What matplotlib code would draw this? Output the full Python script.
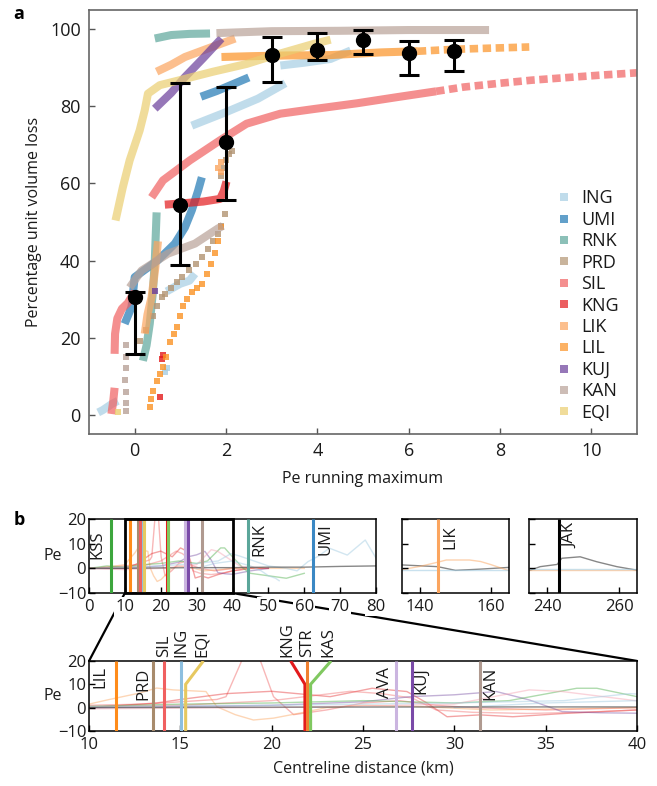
import matplotlib
matplotlib.use("Agg")
import matplotlib.pyplot as plt
from matplotlib.lines import Line2D
from matplotlib.patches import Rectangle, ConnectionPatch

plt.rcParams['font.family'] = ['Open Sans', 'DejaVu Sans']
plt.rcParams['axes.unicode_minus'] = True

# ---------------- panel a data ----------------
glaciers = ['ING', 'UMI', 'RNK', 'PRD', 'SIL', 'KNG', 'LIK', 'LIL', 'KUJ', 'KAN', 'EQI']
colors = ['#a6cee3', '#1f78b4', '#5ba69a', '#b29472', '#f06060', '#e31a1c',
          '#fba55f', '#fb9224', '#6a3d9a', '#b8a197', '#eace6f']

# dense tracks: list of (x, y) per glacier
ING_tracks = [([1.25, 2.0, 2.7, 3.3], [75, 78.5, 82, 86]),
              ([3.19, 3.7, 4.29, 4.73], [90.6, 91.3, 92.3, 94.5]),
              ([0.7, 0.85, 1.0, 1.2, 1.32], [32, 33, 34, 34.8, 36.6]),
              ([-0.8, -0.7, -0.6, -0.5, -0.37], [0.6, 1.2, 2.0, 2.8, 3.6])]
UMI_tracks = [([-0.22, -0.07, 0.0, 0.5, 0.88, 1.1, 1.25, 1.39, 1.47],
               [23.6, 27.9, 35.7, 40, 44.4, 48.6, 53, 58.2, 61.6]),
              ([1.45, 1.8, 2.2, 2.5], [82.5, 84, 86, 87.5])]
RNK_tracks = [([0.44, 0.8, 1.2, 1.65], [97.6, 98.5, 98.8, 98.9]),
              ([0.18, 0.26, 0.33, 0.4, 0.44, 0.48], [14, 18, 23.6, 32, 40, 52.5])]
PRD_tracks = []
SIL_tracks = [([-0.44, -0.43, -0.38, -0.28, -0.15, 0.0], [15.8, 21, 25, 27.5, 29, 32]),
              ([-0.51, -0.47, -0.44], [0.2, 3.5, 7]),
              ([0.37, 0.62, 1.21, 1.87, 2.45, 3.19, 3.92, 4.87, 5.75, 6.6],
               [56.4, 60.8, 66, 71.2, 75.5, 78.1, 79.3, 80.8, 82.4, 83.9])]
KNG_tracks = [([0.66, 1.0, 1.5, 1.87, 1.95, 2.01], [54.5, 54.8, 55.3, 56, 58, 60.5])]
LIK_tracks = [([0.48, 0.8, 1.1, 1.6, 2.2], [89, 90.8, 92.8, 95, 97.6]),
              ([0.22, 0.28, 0.37, 0.45, 0.51], [21, 26, 30.5, 38, 45])]
LIL_tracks = [([1.9, 2.5, 3.3, 4.29, 5.4, 6.2], [92.8, 93.0, 93.2, 93.3, 94, 94.3])]
KUJ_tracks = [([0.44, 0.8, 1.1, 1.5, 1.9], [79.4, 83.5, 87.6, 92.5, 97.6])]
KAN_tracks = [([1.79, 3.0, 4.5, 6.0, 7.76], [99.0, 99.5, 99.6, 99.8, 99.8]),
              ([-0.11, 0.15, 0.73, 1.32, 1.82, 1.93], [33, 37.4, 41.8, 44.4, 48.3, 49])]
EQI_tracks = [([-0.42, -0.26, -0.11, 0.11, 0.22, 0.29, 0.55, 0.99, 1.72, 2.45, 3.04, 3.92, 4.29],
               [50.4, 59, 66, 73.8, 79, 83.3, 85.5, 86.8, 89, 91, 93.2, 96.2, 97.3])]

# sparse tails drawn as spaced squares
SIL_tail = ([6.6, 7.2, 8.0, 8.7, 9.5, 10.2, 11.0], [83.9, 85.0, 86.0, 86.8, 87.5, 88.1, 88.7])
LIL_tail = ([6.2, 7.0, 7.8, 8.64], [94.3, 94.8, 95.1, 95.4])

# individual squares
ING_dots = ([0.66, 0.7], [11, 12])
UMI_dots = ([], [])
RNK_dots = ([], [])
PRD_dots = ([0.11, 0.25, 0.4, 0.48, 0.59, 0.66, 0.8, 0.92, 1.03, 1.2, 1.35, 1.47, 1.6,
             1.72, 1.83, 1.9, 1.98, 1.9, 1.95, 2.0, 2.07, 2.12],
            [19.2, 22, 25.7, 28.3, 30.5, 31.4, 33, 34.5, 35.7, 37.5, 39, 40.9, 43,
             45, 47, 49, 52.2, 62, 64, 66, 67.7, 68.5])
SIL_dots = ([], [])
KNG_dots = ([0.59, 0.62, 0.55], [14.5, 15.5, 4.5])
LIK_dots = ([1.83, 1.88, 1.9], [64, 65.5, 63])
LIL_dots = ([0.33, 0.36, 0.4, 0.48, 0.55, 0.62, 0.68, 0.77, 0.85, 0.92, 1.0, 1.06, 1.15,
             1.25, 1.36, 1.47, 1.58, 1.68, 1.76, 1.83, 1.9],
            [1.9, 4, 6.2, 8.8, 10.5, 12.3, 15, 18.8, 21, 22.7, 25.5, 28.3, 30,
             31.8, 32.8, 34, 36.5, 39, 42, 45, 48.6])
KUJ_dots = ([0.44], [32.2])
KAN_dots = ([-0.18, -0.2, -0.18, -0.22, -0.2, -0.2, -0.18], [1, 3, 6, 9, 12, 15, 18])
EQI_dots = ([-0.37], [0.6])

eb_x = [0, 1, 2, 3, 4, 5, 6, 7]
eb_y = [30.5, 54.5, 70.7, 93.2, 94.5, 97.1, 93.8, 94.4]
eb_lo = [15.8, 38.9, 55.8, 86.3, 92.1, 93.5, 88.1, 89.3]
eb_hi = [31.8, 86.0, 85.0, 98.0, 98.9, 99.9, 96.9, 97.1]

# ---------------- panel b data ----------------
prof_colors = ['#f06060', '#fba55f', '#e31a1c', '#f06060', '#6a3d9a', '#4daf4a',
               '#f4a0b0', '#a6cee3', '#a6cee3', '#555555', '#fba55f', '#a6cee3', '#fba55f', '#a6cee3']
prof_x = [
    [0, 5, 10, 13, 15, 17, 17.5, 18.3, 18.8, 19.4, 20.1, 21.2, 23, 25, 27, 29, 31, 35, 40, 45, 50],
    [0, 5, 10, 11, 12.8, 13.7, 14.6, 16.4, 17, 18, 19, 20.1, 21.5, 23, 25, 28, 32, 36, 40, 50, 60],
    [0, 10, 13.7, 15, 17.5, 20, 23.2, 25.5, 27.4, 28.5, 29.6, 31.4, 33.2, 36, 40, 45, 50],
    [0, 10, 15, 20, 24.3, 26, 27.7, 29, 31, 34, 37, 40, 45],
    [0, 10, 15, 20, 25, 27.6, 30, 32.3, 34.1, 35.9, 38, 40, 45, 50],
    [0, 5, 10, 15, 20, 25, 30, 33, 36.7, 37.8, 40, 43, 45, 50, 55, 60],
    [0, 10, 20, 30, 34.1, 35.9, 39.6, 42, 45],
    [0, 10, 20, 30, 36, 39.6, 42, 46, 50, 55, 58, 61, 64, 67, 72, 77, 80],
    [30, 35, 40, 45, 48, 50, 52, 53],
    [0, 10, 20, 30, 40, 50, 60, 70, 80, 135, 145, 150, 157, 165,
     235.4, 238.1, 242.8, 244.1, 249.2, 253.8, 259.4, 264.9],
    [135, 140, 145, 147.4, 153.9, 157, 160, 164.5],
    [135, 165],
    [235, 265],
    [235, 265],
]
prof_y = [
    [0, 0.5, 1, 1.5, 2.5, 3.5, 4.7, 19, 30, 19.7, 4.7, -3, -1, 2, 3, 1, 0, -1, 0, 0.5, 0],
    [0, 0.5, 1.5, 3.3, 6.3, 8.4, 7.6, 6.9, 0.4, -3, -5.3, -4.5, -2.4, 0, 1, 0.5, -1, -0.5, 0, 0, 0],
    [0, 0, 2, 3.5, 6, 7, 4.7, 8.3, 6.9, 2, -3.9, -3.1, -3.9, -2.5, -1, 0, 0],
    [0, 0.5, 1, 3, 7, 6, 4.1, -1, -2, -2.5, -2, -1, 0],
    [0, 0, 0.5, 1, 2.5, 4.7, 5.5, 6.9, 3.3, -1.7, -2.2, -2.4, -1, 0],
    [0, 1, 0.5, 1.5, 2, 3, 2, 3, 8.3, 8.3, 4.7, 0, -2, -3, -4, -2],
    [0, -0.5, 0, 1.5, 7.6, 6.9, 3.3, 1, 0],
    [0, 0.5, 1, 2, 3, 6, 5, 3, 1, 0, -1, 2.7, 5, 8.2, 5.4, 11.5, 4.2],
    [0, 2, 3, 1, -1, -3, -4, -5],
    [0, 0, 0.2, 0.3, 0.3, 0.5, 0.5, 0.8, 1, 1.4, 0.7, -0.8, -0.3, 0.4,
     -0.7, 0.7, 1.6, 4.1, 4.7, 2.7, 0.7, -0.7],
    [-0.5, 0.8, 2.5, 3.4, 3.4, 2.8, 1.5, -0.7],
    [-0.5, -0.5],
    [-0.8, -0.8],
    [-0.3, -0.3],
]
prof_alpha = [0.45, 0.45, 0.4, 0.4, 0.4, 0.45, 0.45, 0.5, 0.5, 0.7, 0.5, 0.6, 0.5, 0.6]

mk_names = ['KSS', 'LIL', 'PRD', 'SIL', 'ING', 'EQI', 'KNG', 'STR', 'KAS', 'AVA', 'KUJ', 'KAN',
            'RNK', 'UMI', 'LIK', 'JAK']
mk_pos = [6.05, 11.48, 13.52, 14.12, 15.02, 15.29, 21.82, 21.91, 22.13, 26.8, 27.7, 31.4,
          44.2, 62.5, 145.1, 243.2]
mk_top = [6.05, 11.48, 13.52, 14.12, 15.02, 16.26, 21.04, 21.91, 23.25, 26.8, 27.7, 31.4,
          44.2, 62.5, 145.1, 243.2]
mk_colors = ['#3da63d', '#ff8c1a', '#a88b6c', '#f06060', '#8dbfdf', '#e6c860', '#e31a1c',
             '#f08030', '#80c860', '#cbb5e0', '#7a4aa8', '#b09a90', '#5ba69a', '#3a88c4',
             '#fba55f', '#000000']

# ---------------- figure ----------------
fig = plt.figure(figsize=(6.57, 7.86), dpi=100)
ax_a = fig.add_axes([0.1355, 0.4478, 0.8341, 0.5395])
ax_b1 = fig.add_axes([0.1355, 0.2455, 0.4368, 0.0941])
ax_b2 = fig.add_axes([0.6119, 0.2455, 0.1628, 0.0941])
ax_b3 = fig.add_axes([0.8052, 0.2455, 0.1644, 0.0941])
ax_c = fig.add_axes([0.1355, 0.0700, 0.8341, 0.0891])

TXT = '#1a1a1a'
ALPHA = 0.7
tracks = [ING_tracks, UMI_tracks, RNK_tracks, PRD_tracks, SIL_tracks, KNG_tracks,
          LIK_tracks, LIL_tracks, KUJ_tracks, KAN_tracks, EQI_tracks]
dots = [ING_dots, UMI_dots, RNK_dots, PRD_dots, SIL_dots, KNG_dots,
        LIK_dots, LIL_dots, KUJ_dots, KAN_dots, EQI_dots]

for g, c, trs, ds in zip(glaciers, colors, tracks, dots):
    for tx, ty in trs:
        ax_a.plot(tx, ty, color=c, alpha=ALPHA, lw=5.8, solid_capstyle='butt',
                  solid_joinstyle='round', zorder=2)
    if len(ds[0]):
        ax_a.plot(ds[0], ds[1], ls='none', marker='s', ms=5, mew=0, color=c,
                  alpha=0.8, zorder=2)

for (tx, ty), c in [(SIL_tail, colors[4]), (LIL_tail, colors[7])]:
    ax_a.plot(tx, ty, color=c, alpha=ALPHA, lw=5.5, dash_capstyle='butt',
              linestyle=(0, (1.1, 0.6)), zorder=2)

yerr = [[y - lo for y, lo in zip(eb_y, eb_lo)], [hi - y for y, hi in zip(eb_y, eb_hi)]]
ax_a.errorbar(eb_x, eb_y, yerr=yerr, fmt='o', color='black', ms=10, lw=2.2,
              capsize=7, capthick=2.2, zorder=5)

ax_a.set_xlim(-1, 11)
ax_a.set_ylim(-5, 105)
ax_a.set_xticks([0, 2, 4, 6, 8, 10])
ax_a.set_yticks([0, 20, 40, 60, 80, 100])
ax_a.tick_params(direction='in', length=4, width=1, labelsize=13, colors='#555555',
                 labelcolor=TXT, pad=6)
for s in ax_a.spines.values():
    s.set_color('#666666')
    s.set_linewidth(1.2)
ax_a.set_xlabel('Pe running maximum', fontsize=11.5, color=TXT, labelpad=8)
ax_a.set_ylabel('Percentage unit volume loss', fontsize=11.5, color=TXT, labelpad=6)

handles = [Line2D([], [], ls='none', marker='s', ms=6, mew=0, color=c, alpha=ALPHA, label=g)
           for g, c in zip(glaciers, colors)]
leg = ax_a.legend(handles=handles, loc='lower left', bbox_to_anchor=(0.84, 0.012),
                  frameon=False, fontsize=13, handlelength=0.8, handletextpad=0.55,
                  labelspacing=0.19, borderaxespad=0)
for t in leg.get_texts():
    t.set_color(TXT)

# ---------------- panel b ----------------
def draw_profiles(ax):
    for px_, py_, pc, pa in zip(prof_x, prof_y, prof_colors, prof_alpha):
        ax.plot(px_, py_, color=pc, lw=1.0, alpha=pa, zorder=1)

for ax, xl in [(ax_b1, (0, 80)), (ax_b2, (135, 165)), (ax_b3, (235, 265)), (ax_c, (10, 40))]:
    draw_profiles(ax)
    ax.set_xlim(*xl)
    ax.set_ylim(-10, 20)
    ax.set_yticks([-10, 0, 10, 20])
    ax.tick_params(direction='in', length=4, width=1, labelsize=12, colors='black',
                   labelcolor=TXT)
    ax.tick_params(axis='x', pad=4)
    ax.tick_params(axis='y', pad=2)
    for s in ax.spines.values():
        s.set_color('black')
        s.set_linewidth(1.1)

# vertical markers
for n, p, t, c in zip(mk_names, mk_pos, mk_top, mk_colors):
    for ax in (ax_b1, ax_b2, ax_b3):
        ax.plot([p, p], [-10, 20], color=c, lw=2.2, zorder=3, solid_capstyle='butt')
    ax_c.plot([p, p, t], [-10, 10, 20], color=c, lw=2.2, zorder=3, solid_capstyle='butt',
              solid_joinstyle='miter')

ax_b1.set_xticks(range(0, 81, 10))
ax_b2.set_xticks([140, 160])
ax_b3.set_xticks([240, 260])
ax_b2.set_yticklabels([])
ax_b3.set_yticklabels([])
ax_c.set_xticks([10, 15, 20, 25, 30, 35, 40])

for ax in (ax_b1, ax_c):
    ax.set_ylabel('Pe', rotation=0, fontsize=11.5, color=TXT, va='center', ha='center')
ax_b1.yaxis.set_label_coords(-0.125, 0.5)
ax_c.yaxis.set_label_coords(-0.066, 0.5)
ax_c.set_xlabel('Centreline distance (km)', fontsize=11.5, color=TXT, labelpad=6)

# inside labels
inside = [(ax_b1, 'KSS', 2.4, 15.5), (ax_b1, 'RNK', 47.6, 18.5), (ax_b1, 'UMI', 66.0, 18.5),
          (ax_b2, 'LIK', 148.5, 17.5), (ax_b3, 'JAK', 246.4, 18.5),
          (ax_c, 'LIL', 10.6, 17.8), (ax_c, 'PRD', 13.0, 17.0), (ax_c, 'AVA', 26.2, 17.5),
          (ax_c, 'KUJ', 28.2, 17.5), (ax_c, 'KAN', 31.95, 17.5)]
for ax, n, x, y in inside:
    ax.text(x, y, n, rotation=90, ha='center', va='top', fontsize=12, color=TXT, zorder=4)

above = [('SIL', 14.1), ('ING', 15.05), ('EQI', 16.2), ('KNG', 20.85), ('STR', 21.95), ('KAS', 23.1)]
for n, x in above:
    ax_c.annotate(n, xy=(x, 1.0), xycoords=('data', 'axes fraction'), xytext=(0, 3),
                  textcoords='offset points', rotation=90, ha='center', va='bottom',
                  fontsize=12, color=TXT, annotation_clip=False,
                  bbox=dict(facecolor='white', edgecolor='none', pad=0.5))

# zoom rectangle and connectors
ax_b1.add_patch(Rectangle((10, -10), 30, 30, fill=False, ec='black', lw=2, clip_on=False, zorder=5))
for xa, xb in [((10, -10), (0, 1)), ((40, -10), (1, 1))]:
    cp = ConnectionPatch(xyA=xa, coordsA=ax_b1.transData, xyB=xb, coordsB=ax_c.transAxes,
                         color='black', lw=1.6, zorder=-1)
    fig.add_artist(cp)

for lab in ax_b1.get_xticklabels():
    lab.set_bbox(dict(facecolor='white', edgecolor='none', pad=1.0))

fig.text(0.02, 0.982, 'a', fontsize=13, fontweight='bold', va='center', ha='left', color='black')
fig.text(0.02, 0.338, 'b', fontsize=13, fontweight='bold', va='center', ha='left', color='black')

fig.savefig('out.png', dpi=100)
